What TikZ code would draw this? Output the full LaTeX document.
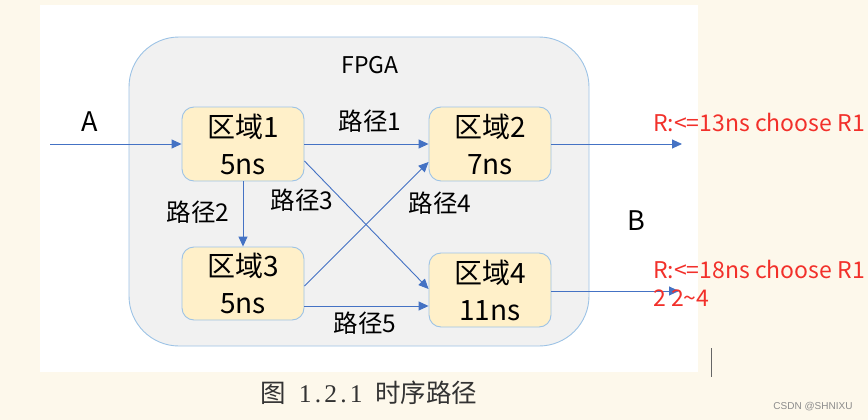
\documentclass[tikz,border=0pt]{standalone}
\usepackage{fontspec}
\setmainfont{Noto Sans CJK SC}
\newfontfamily\cjk{Noto Sans CJK SC}
\newfontfamily\capserif{Liberation Serif}
\newfontfamily\wm{Liberation Sans}
\usetikzlibrary{arrows.meta}
\definecolor{cream}{HTML}{FDF8EB}
\definecolor{fpgafill}{HTML}{F1F1F1}
\definecolor{edgeblue}{HTML}{9DC3E6}
\definecolor{arrowblue}{HTML}{4472C4}
\definecolor{boxfill}{HTML}{FFF0C9}
\definecolor{redtxt}{HTML}{F2302A}
\newcommand{\hw}[1]{\makebox[0.5em]{#1}}
\tikzset{
  region/.style={draw=edgeblue, line width=0.9pt, fill=boxfill, rounded corners=12pt,
    minimum width=122pt, align=center, inner sep=0pt,
    font=\cjk\fontsize{28}{37}\selectfont},
  conn/.style={draw=arrowblue, line width=0.9pt, -{Triangle[length=10pt,width=9pt]}},
  plabel/.style={inner sep=0pt, font=\cjk\fontsize{24.5}{28}\selectfont},
  redlabel/.style={inner sep=0pt, anchor=west, text=redtxt, font=\cjk\fontsize{23}{27}\selectfont}
}
\begin{document}
\begin{tikzpicture}[x=1pt,y=-1pt]
\useasboundingbox (0,0) rectangle (868,420);
\fill[cream] (0,0) rectangle (868,420);
\fill[white] (40,5) rectangle (698,372);
\draw[edgeblue, fill=fpgafill, line width=0.9pt, rounded corners=50pt] (129,37) rectangle (589,346);
\node[plabel, font=\cjk\fontsize{23}{27}\selectfont] (fpga) at (370,65) {FPGA};

\node[region, minimum height=74pt] (r1) at (243,144) {区域1\\5ns};
\node[region, minimum height=74pt] (r2) at (490,144) {区域2\\7ns};
\node[region, minimum height=73pt] (r3) at (243,283.5) {区域3\\5ns};
\node[region, minimum height=74pt] (r4) at (490,290) {区域4\\11ns};

\coordinate (a0) at (50,144);
\coordinate (o2) at (682,144);
\coordinate (o4) at (679,291);

\draw[conn] (a0) -- (r1.west);
\draw[conn] (r1.east) -- (r2.west);
\draw[conn] (r1.south) -- (r3.north);
\draw[conn] ([yshift=-17pt]r1.east) -- ([yshift=1pt]r4.west);
\draw[conn] ([yshift=-2.5pt]r3.east) -- ([yshift=-18pt]r2.west);
\draw[conn] ([yshift=-22.5pt]r3.east) -- ([yshift=-16pt]r4.west);
\draw[conn] (r2.east) -- (o2);
\draw[conn] ([yshift=-1pt]r4.east) -- (o4);

\node[plabel] (l1) at (370,121) {路径1};
\node[plabel] (l2) at (198,212) {路径2};
\node[plabel] (l3) at (302,200) {路径3};
\node[plabel] (l4) at (440,203) {路径4};
\node[plabel] (l5) at (365,323) {路径5};

\node[plabel, font=\cjk\fontsize{27}{30}\selectfont] (A) at (90,122) {A};
\node[plabel, font=\cjk\fontsize{27}{30}\selectfont] (B) at (636,221) {B};

\node[redlabel] (t1) at (653,122) {R:<=13ns choose R1};
\node[redlabel] (t2) at (653,269) {R:<=18ns choose R1};
\node[redlabel] (t3) at (653,298) {2 2\char"007E 4};

\draw[black!60, line width=1pt] (711,348) -- (711,377);

\node[inner sep=0pt, font=\cjk\fontsize{25.5}{28}\selectfont, text=black!80] (cap) at (369,393) {图\hw{}{\capserif\hw{1}\hw{.}\hw{2}\hw{.}\hw{1}}\hw{}时序路径};
\node[inner sep=0pt, font=\wm\fontsize{10}{12}\selectfont, text=black!45] (wmk) at (813,407) {CSDN @SHNIXU};
\end{tikzpicture}
\end{document}
